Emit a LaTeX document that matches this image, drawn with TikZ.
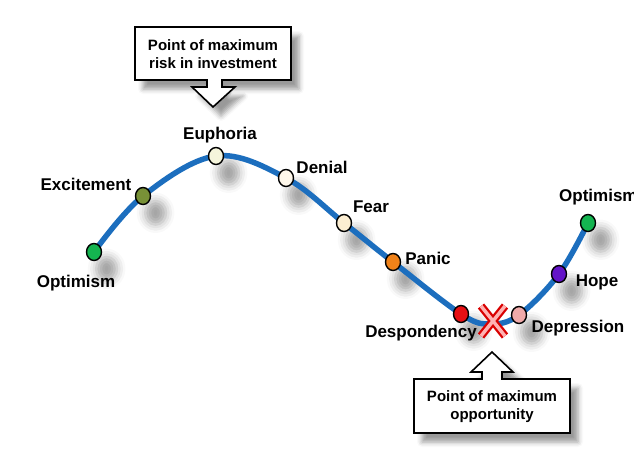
\documentclass[tikz,border=0pt]{standalone}
\usepackage{fontspec}
\setmainfont{Liberation Sans}
\usetikzlibrary{shapes.geometric,shadows.blur}
% Colori delle fasi
\definecolor{curva}{RGB}{28,110,190}
\definecolor{verdeC}{RGB}{20,180,80}
\definecolor{olivaC}{RGB}{120,145,55}
\definecolor{euforiaC}{RGB}{245,245,220}
\definecolor{negazioneC}{RGB}{255,248,235}
\definecolor{pauraC}{RGB}{252,238,210}
\definecolor{panicoC}{RGB}{240,130,25}
\definecolor{sconfortoC}{RGB}{230,15,20}
\definecolor{depressioneC}{RGB}{240,170,170}
\definecolor{speranzaC}{RGB}{100,20,200}
\begin{document}
\begin{tikzpicture}[x=1pt, y=-1pt, font=\bfseries\fontsize{17}{20}\selectfont,
	punto/.style={ellipse, draw=black, line width=1.4pt, minimum width=15pt, minimum height=17pt, inner sep=0pt},
	ombra/.style={ellipse, fill=white, minimum width=15pt, minimum height=17pt, inner sep=0pt,
		blur shadow={shadow xshift=9pt, shadow yshift=-12pt, shadow opacity=35, shadow scale=1.4, shadow blur radius=6pt}},
	etichetta/.style={anchor=base, inner sep=0pt},
	fumetto/.style={draw=black, line width=1.6pt, fill=white, line join=miter,
		blur shadow={shadow xshift=8pt, shadow yshift=-9pt, shadow opacity=40, shadow blur radius=5pt}},
	testobox/.style={align=center, inner sep=0pt, font=\bfseries\fontsize{15}{18}\selectfont}]
	% Area del disegno
	\useasboundingbox (0,0) rectangle (637,466);
	
	% --- Punti sulla curva ---
	\coordinate (ottimismo) at (94,252);
	\coordinate (eccitazione) at (143,196);
	\coordinate (euforia) at (216,156);
	\coordinate (negazione) at (286,178);
	\coordinate (paura) at (344,223);
	\coordinate (panico) at (393,262);
	\coordinate (sconforto) at (461,314);
	\coordinate (fondo) at (490,324);
	\coordinate (depressione) at (519,315);
	\coordinate (speranza) at (559,274);
	\coordinate (ottimismoB) at (588,223);
	
	% Ombre dei punti (sotto la curva)
	\foreach \p in {ottimismo,eccitazione,euforia,negazione,paura,panico,sconforto,depressione,speranza,ottimismoB}
		\node[ombra] at (\p) {};
	
	% --- Curva ---
	\draw[curva, line width=5.5pt, line cap=round] plot[smooth, tension=0.6] coordinates
		{(ottimismo) (eccitazione) (euforia) (negazione) (paura) (panico) (sconforto) (fondo) (depressione) (speranza) (ottimismoB)};
	
	% --- Punti ---
	\node[punto, fill=verdeC] (pOtt) at (ottimismo) {};
	\node[punto, fill=olivaC] (pEcc) at (eccitazione) {};
	\node[punto, fill=euforiaC] (pEuf) at (euforia) {};
	\node[punto, fill=negazioneC] (pNeg) at (negazione) {};
	\node[punto, fill=pauraC] (pPau) at (paura) {};
	\node[punto, fill=panicoC] (pPan) at (panico) {};
	\node[punto, fill=sconfortoC] (pSco) at (sconforto) {};
	\node[punto, fill=depressioneC] (pDep) at (depressione) {};
	\node[punto, fill=speranzaC] (pSpe) at (speranza) {};
	\node[punto, fill=verdeC] (pOttB) at (ottimismoB) {};
	
	% --- Etichette ---
	\node[etichetta] (lOtt) at (76,287) {Optimism};
	\node[etichetta] (lEcc) at (86,190) {Excitement};
	\node[etichetta] (lEuf) at (220,139) {Euphoria};
	\node[etichetta] (lNeg) at (322,173) {Denial};
	\node[etichetta] (lPau) at (371,212) {Fear};
	\node[etichetta] (lPan) at (428,264) {Panic};
	\node[etichetta] (lSco) at (421,337) {Despondency};
	\node[etichetta] (lDep) at (578,332) {Depression};
	\node[etichetta] (lSpe) at (597,286) {Hope};
	% Etichetta tagliata dal bordo destro
	\begin{scope}
		\clip (540,180) rectangle (633,210);
		\node[etichetta, anchor=base west] (lOttB) at (559,201) {Optimism};
	\end{scope}
	
	% --- Croce rossa nel minimo ---
	\draw[red!85!black, line width=8pt] (481,306) -- (505,336) (505,306) -- (481,336);
	\draw[red!30, line width=3.5pt] (481,306) -- (505,336) (505,306) -- (481,336);
	
	% --- Riquadro in alto ---
	\draw[fumetto] (135,27) -- (291,27) -- (291,80) -- (222,80) -- (222,87) -- (235,87)
		-- (213,107) -- (192,87) -- (207,87) -- (207,80) -- (135,80) -- cycle;
	\node[testobox] (rischio) at (213,54) {Point of maximum\\risk in investment};
	
	% --- Riquadro in basso ---
	\draw[fumetto] (492,352) -- (513,372) -- (502,372) -- (502,379) -- (570,379) -- (570,433)
		-- (414,433) -- (414,379) -- (482,379) -- (482,372) -- (471,372) -- cycle;
	\node[testobox] (opportunita) at (492,407) {Point of maximum\\opportunity};
\end{tikzpicture}
\end{document}
